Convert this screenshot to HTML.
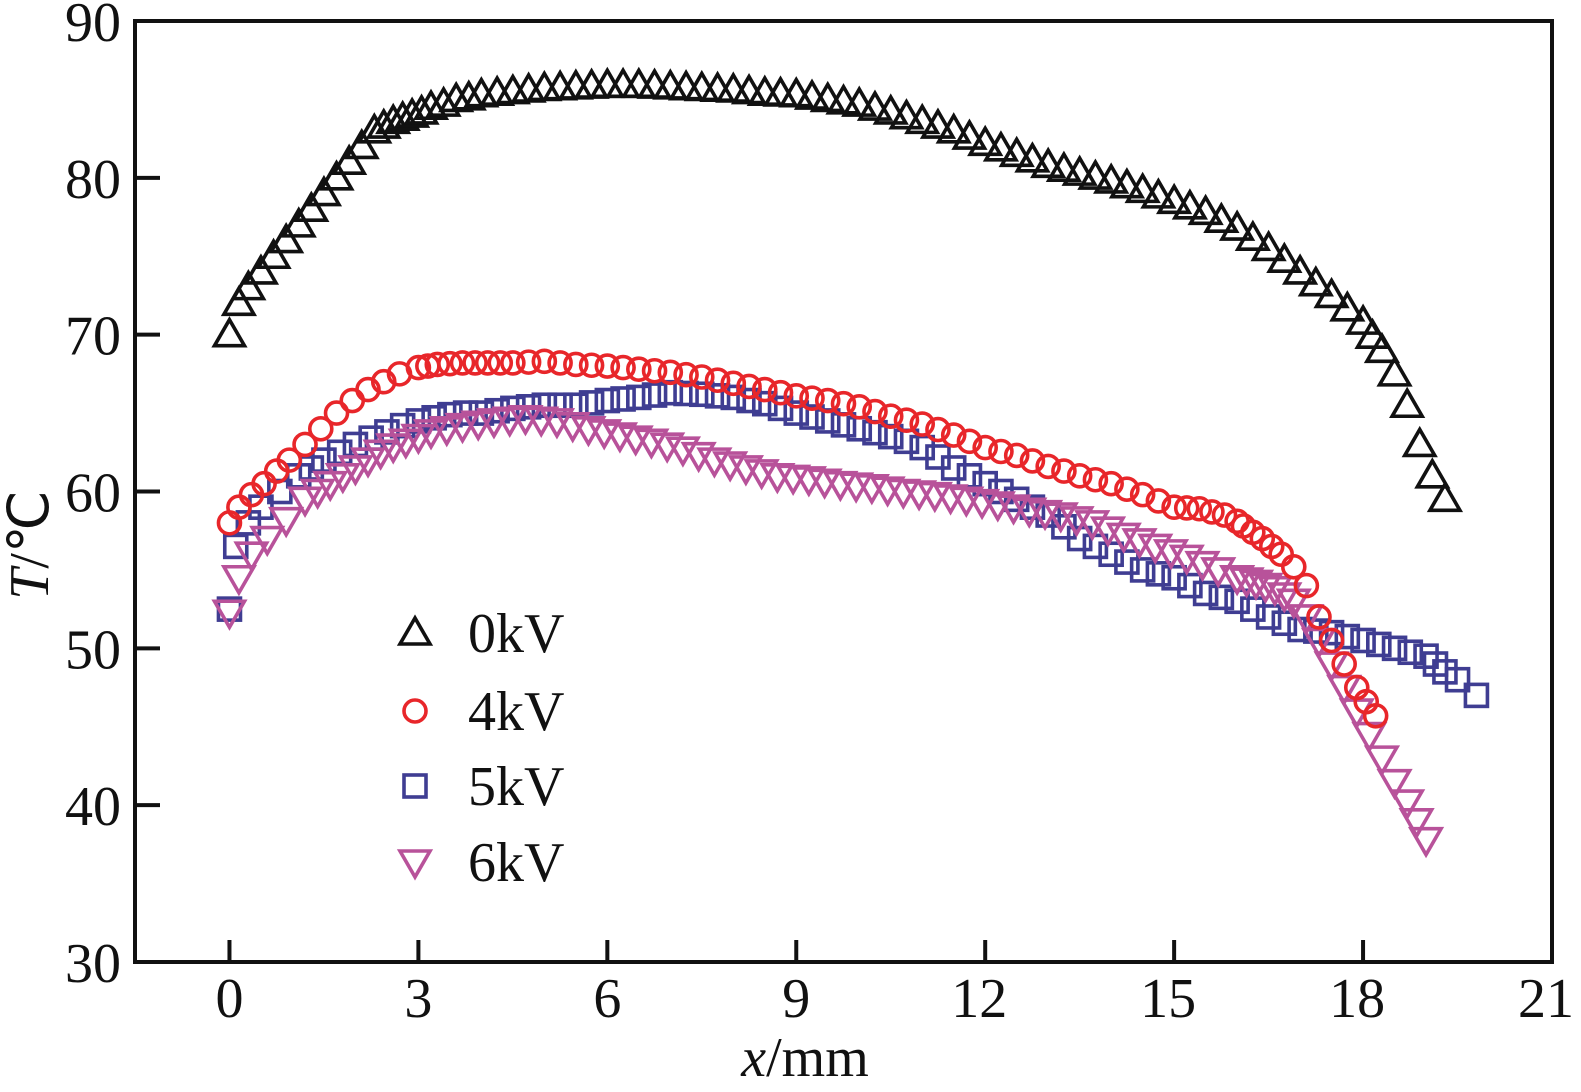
<!DOCTYPE html>
<html><head><meta charset="utf-8"><style>
html,body{margin:0;padding:0;background:#fff}
svg{display:block}
text{font-family:"Liberation Serif",serif;fill:#111}
</style></head><body>
<svg id="c" width="1581" height="1092" viewBox="0 0 1581 1092"></svg>
<script>
const xTicks=[0,3,6,9,12,15,18,21];
const yTicks=[30,40,50,60,70,80,90];
const seriesNames=["0kV","4kV","5kV","6kV"];
const x0=[0,0.15,0.3,0.5,0.7,0.9,1.1,1.3,1.5,1.7,1.9,2.1,2.3,2.45,2.6,2.75,2.9,3.05,3.2,3.4,3.6,3.8,4,4.25,4.5,4.75,5,5.25,5.5,5.75,6,6.25,6.5,6.75,7,7.25,7.5,7.75,8,8.25,8.5,8.75,9,9.25,9.5,9.75,10,10.25,10.5,10.75,11,11.25,11.5,11.75,12,12.25,12.5,12.75,13,13.25,13.5,13.75,14,14.25,14.5,14.75,15,15.25,15.5,15.75,16,16.25,16.5,16.75,17,17.25,17.5,17.75,18,18.15,18.3,18.5,18.7,18.9,19.1,19.3];
const y0=[70,72,73,74,75,76,77,78,79,80,81,82,83,83.3,83.6,83.8,84,84.2,84.5,84.7,85,85.1,85.3,85.4,85.5,85.6,85.7,85.75,85.8,85.85,85.9,85.9,85.9,85.85,85.8,85.75,85.7,85.65,85.6,85.5,85.4,85.35,85.3,85.15,85,84.85,84.7,84.45,84.2,83.9,83.6,83.3,83,82.6,82.2,81.85,81.5,81.15,80.8,80.55,80.3,80.05,79.8,79.5,79.2,78.85,78.5,78.15,77.8,77.3,76.8,76.15,75.5,74.75,74,73.25,72.5,71.65,70.8,69.9,69,67.5,65.5,63,61,59.5];
const x4=[0,0.15,0.35,0.55,0.75,0.95,1.2,1.45,1.7,1.95,2.2,2.45,2.7,3,3.15,3.3,3.5,3.7,3.9,4.1,4.3,4.5,4.75,5,5.25,5.5,5.75,6,6.25,6.5,6.75,7,7.25,7.5,7.75,8,8.25,8.5,8.75,9,9.25,9.5,9.75,10,10.25,10.5,10.75,11,11.25,11.5,11.75,12,12.25,12.5,12.75,13,13.25,13.5,13.75,14,14.25,14.5,14.75,15,15.2,15.4,15.6,15.8,16,16.1,16.25,16.4,16.55,16.7,16.9,17.1,17.3,17.5,17.7,17.9,18.05,18.2];
const y4=[58,59,59.8,60.5,61.3,62,63,64,65,65.8,66.5,67,67.5,67.9,68,68.1,68.15,68.2,68.2,68.2,68.2,68.2,68.25,68.3,68.2,68.1,68.05,68,67.9,67.8,67.7,67.6,67.45,67.3,67.1,66.9,66.7,66.5,66.3,66.1,65.95,65.8,65.6,65.4,65.1,64.8,64.55,64.3,63.95,63.6,63.2,62.8,62.55,62.3,61.95,61.6,61.3,61,60.75,60.5,60.15,59.8,59.4,59,58.95,58.9,58.7,58.5,58.1,57.8,57.4,57,56.5,56,55.2,54,52,50.5,49,47.5,46.6,45.7];
const x5=[0,0.1,0.3,0.5,0.8,1.1,1.3,1.5,1.75,2,2.25,2.5,2.75,3,3.25,3.5,3.75,4,4.25,4.5,4.75,5,5.25,5.5,5.75,6,6.25,6.5,6.75,7,7.25,7.5,7.75,8,8.25,8.5,8.75,9,9.25,9.5,9.75,10,10.25,10.5,10.75,11,11.25,11.5,11.75,12,12.25,12.5,12.75,13,13.25,13.5,13.75,14,14.25,14.5,14.75,15,15.25,15.5,15.75,16,16.25,16.5,16.75,17,17.25,17.5,17.75,18,18.25,18.5,18.75,19,19.15,19.3,19.5,19.8];
const y5=[52.5,56.5,58,59,60,61,61.5,62,62.5,63,63.4,63.8,64.2,64.5,64.7,64.9,65,65,65.15,65.3,65.4,65.5,65.5,65.5,65.65,65.8,65.9,66,66.15,66.3,66.25,66.2,66.1,66,65.8,65.6,65.3,65,64.75,64.5,64.25,64,63.75,63.5,63.2,62.8,62.2,61.5,61,60.5,60,59.5,59,58.5,57.75,57,56.5,56,55.5,55,54.75,54.5,54,53.5,53.25,53,52.5,52,51.6,51.2,51.1,51,50.75,50.5,50.25,50,49.75,49.5,49,48.5,48,47];
const x6=[0,0.15,0.35,0.6,0.9,1.2,1.4,1.6,1.8,2,2.2,2.4,2.6,2.8,3,3.2,3.45,3.7,3.95,4.2,4.45,4.7,4.95,5.2,5.45,5.7,5.95,6.2,6.45,6.7,6.95,7.2,7.45,7.7,7.95,8.2,8.45,8.7,8.95,9.2,9.45,9.7,9.95,10.2,10.45,10.7,10.95,11.2,11.45,11.7,11.95,12.2,12.45,12.7,12.95,13.2,13.45,13.7,13.95,14.2,14.45,14.7,14.95,15.2,15.45,15.7,16,16.15,16.3,16.45,16.6,16.75,16.9,17.1,17.3,17.5,17.7,17.9,18.1,18.3,18.5,18.7,18.85,19];
const y6=[52.3,54.5,56,57,58.2,59.5,60,60.5,61,61.5,62,62.5,62.9,63.2,63.5,63.8,64,64.2,64.35,64.5,64.6,64.7,64.6,64.5,64.25,64,63.8,63.6,63.4,63.2,62.95,62.7,62.35,62,61.75,61.5,61.25,61,60.9,60.8,60.65,60.5,60.4,60.3,60.15,60,59.9,59.8,59.65,59.5,59.35,59.2,59,58.8,58.65,58.5,58.25,58,57.6,57.2,56.85,56.5,56.15,55.8,55.4,55,54.5,54.35,54.2,54,53.8,53.4,53,52,50.5,49,47.5,46,44.5,43,41.5,40.2,39,37.8];

const L=135,R=1552,T=21,B=962;
const sx=v=>L+(v+1.5)/22.5*(R-L);
const sy=v=>B-(v-30)/60*(B-T);
const svg=document.getElementById('c');
const NS='http://www.w3.org/2000/svg';
function mk(tag,a,p){const e=document.createElementNS(NS,tag);for(const k in a)e.setAttribute(k,a[k]);(p||svg).appendChild(e);return e;}

function marker(type,cx,cy,g){
  let e;
  if(type==='tri'){e=mk('polygon',{points:`${cx},${cy-15} ${cx-15},${cy+11} ${cx+15},${cy+11}`,fill:'none',stroke:'#111','stroke-width':3.6},g);}
  else if(type==='circ'){e=mk('circle',{cx,cy,r:11,fill:'none',stroke:'#e8262a','stroke-width':3.6},g);}
  else if(type==='sq'){e=mk('rect',{x:cx-11,y:cy-11,width:22,height:22,fill:'none',stroke:'#3f3d92','stroke-width':3.6},g);}
  else {e=mk('polygon',{points:`${cx},${cy+15} ${cx-15},${cy-11} ${cx+15},${cy-11}`,fill:'none',stroke:'#b8529a','stroke-width':3.6},g);}
  return e;
}

const series=[[x5,y5,'sq'],[x6,y6,'dtri'],[x4,y4,'circ'],[x0,y0,'tri']];
const snames=['series-5kV','series-6kV','series-4kV','series-0kV'];
series.forEach((s,i)=>{
  const g=mk('g',{});
  
  
  s[0].forEach((xv,j)=>{
    const m=marker(s[2],sx(xv),sy(s[1][j]),g);
    
    
  });
});

const frame=mk('rect',{x:L,y:T,width:R-L,height:B-T,fill:'none',stroke:'#111','stroke-width':4});



xTicks.forEach(v=>{
  const X=sx(v);
  if(v<21){const t=mk('line',{x1:X,y1:B,x2:X,y2:B-22,stroke:'#111','stroke-width':4});
  
  }
  const l=mk('text',{x:X-(v>=10?6:0),y:1017,'font-size':56,'text-anchor':'middle'});l.textContent=v;
  
  
});
yTicks.forEach(v=>{
  const Y=sy(v);
  if(v>30&&v<90){const t=mk('line',{x1:L,y1:Y,x2:L+25,y2:Y,stroke:'#111','stroke-width':4});
  
  }
  const l=mk('text',{x:121,y:Y+20,'font-size':56,'text-anchor':'end'});l.textContent=v;
  
  
});

const xl=mk('text',{x:805,y:1076,'font-size':56,'text-anchor':'middle'});
xl.innerHTML='<tspan font-style="italic">x</tspan>/mm';


const yl=mk('text',{x:0,y:0,'font-size':56,'text-anchor':'middle',transform:'translate(48,545) rotate(-90)'});
yl.innerHTML='<tspan font-style="italic">T</tspan>/℃';



const legTypes=['tri','circ','sq','dtri'];
const legY=[633,711,786,862];
seriesNames.forEach((n,i)=>{
  const g=mk('g',{});
  
  
  marker(legTypes[i],415,legY[i],g);
  const t=mk('text',{x:468,y:legY[i]+19,'font-size':56},g);t.textContent=n;
});
</script>
</body></html>
